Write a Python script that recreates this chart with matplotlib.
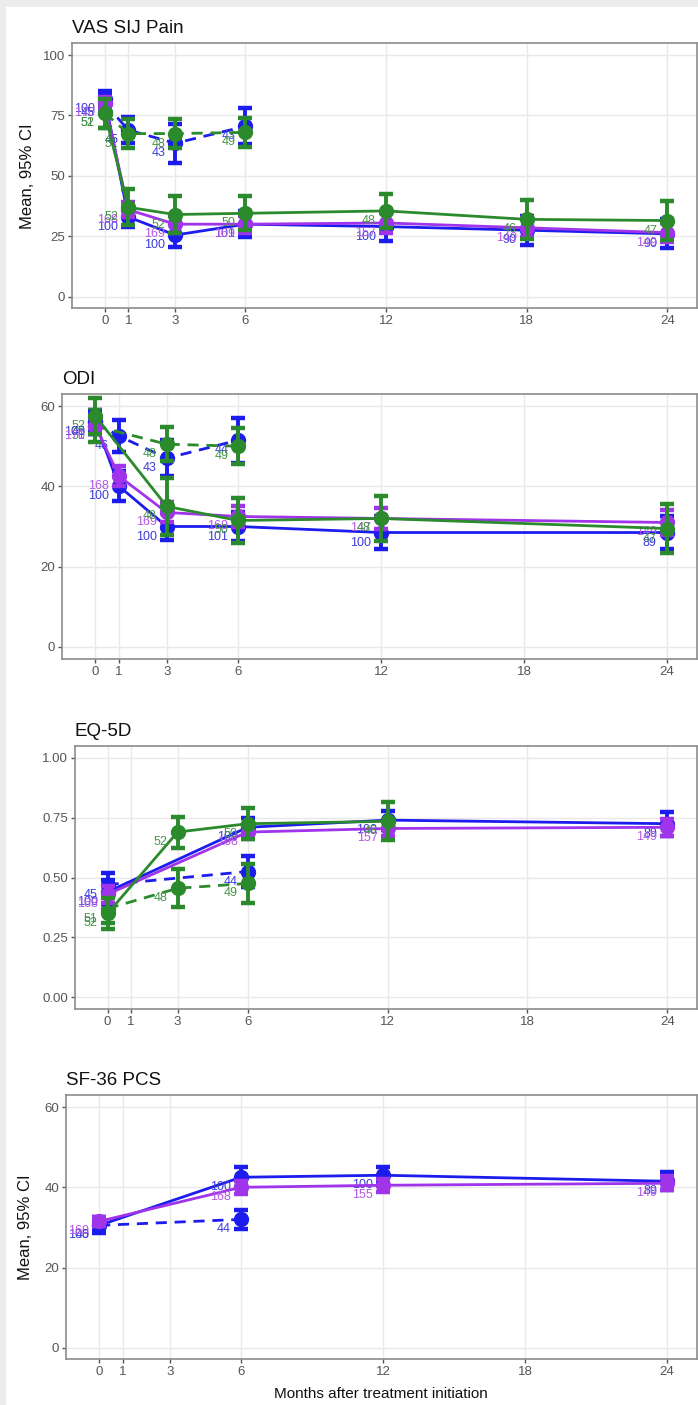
import matplotlib
matplotlib.use('Agg')
import matplotlib.pyplot as plt
from matplotlib.transforms import offset_copy
from matplotlib.patches import Rectangle

plt.rcParams['font.family'] = ['Liberation Sans', 'DejaVu Sans']

# ---------------- data ----------------
month_ticks = [0, 1, 3, 6, 12, 18, 24]

# VAS SIJ Pain
vas_blue_m = [0, 1, 3, 6, 12, 18, 24]
vas_blue = [82, 33, 25.5, 30, 29, 27.5, 26]
vas_blue_ci = [3, 4, 5, 5.5, 6, 6, 6]
vas_blue_n = [100, 100, 100, 101, 100, 90, 90]
vas_purple_m = [0, 1, 3, 6, 12, 18, 24]
vas_purple = [80, 36, 30, 30, 30.5, 28.5, 26.5]
vas_purple_ci = [2.5, 3, 3.5, 3.5, 4, 4, 4]
vas_purple_n = [170, 168, 169, 169, 157, 149, 149]
vas_green_m = [0, 1, 3, 6, 12, 18, 24]
vas_green = [76, 37, 34, 34.5, 35.5, 32, 31.5]
vas_green_ci = [6, 7.5, 7.5, 7, 7, 8, 8]
vas_green_n = [52, 52, 52, 50, 48, 46, 47]
vas_bluec_m = [0, 1, 3, 6]
vas_bluec = [80, 69, 63.5, 70.5]
vas_bluec_ci = [4, 5.5, 8, 7.5]
vas_bluec_n = [45, 45, 43, 43]
vas_greenc_m = [0, 1, 3, 6]
vas_greenc = [76, 67.5, 67.5, 68]
vas_greenc_ci = [6, 6, 6, 6]
vas_greenc_n = [51, 51, 48, 49]

# ODI
odi_blue_m = [0, 1, 3, 6, 12, 24]
odi_blue = [56, 40, 30, 30, 28.5, 28.5]
odi_blue_ci = [2.5, 3.7, 3.4, 3.5, 4, 4]
odi_blue_n = [100, 100, 100, 101, 100, 89]
odi_purple_m = [0, 1, 3, 6, 12, 24]
odi_purple = [55, 42.5, 33.5, 32.5, 32, 31]
odi_purple_ci = [2, 2.5, 2.5, 2.5, 2.5, 3]
odi_purple_n = [170, 168, 169, 169, 147, 149]
odi_green_m = [0, 3, 6, 12, 24]
odi_green = [57.5, 35, 31.5, 32, 29.5]
odi_green_ci = [4.5, 7, 5.5, 5.6, 6]
odi_green_n = [52, 48, 50, 48, 47]
odi_bluec_m = [0, 1, 3, 6]
odi_bluec = [56, 52.5, 47, 51.5]
odi_bluec_ci = [3, 4, 4.5, 5.6]
odi_bluec_n = [45, 46, 43, 44]
odi_greenc_m = [0, 3, 6]
odi_greenc = [55, 50.5, 50]
odi_greenc_ci = [4, 4.3, 4.5]
odi_greenc_n = [51, 48, 49]

# EQ-5D
eq_blue_m = [0, 6, 12, 24]
eq_blue = [0.44, 0.71, 0.74, 0.725]
eq_blue_ci = [0.05, 0.04, 0.04, 0.05]
eq_blue_n = [100, 100, 100, 89]
eq_purple_m = [0, 6, 12, 24]
eq_purple = [0.43, 0.69, 0.705, 0.71]
eq_purple_ci = [0.035, 0.03, 0.03, 0.035]
eq_purple_n = [168, 168, 157, 149]
eq_green_m = [0, 3, 6, 12]
eq_green = [0.35, 0.69, 0.725, 0.735]
eq_green_ci = [0.065, 0.065, 0.065, 0.08]
eq_green_n = [52, 52, 50, 48]
eq_bluec_m = [0, 6]
eq_bluec = [0.47, 0.525]
eq_bluec_ci = [0.05, 0.065]
eq_bluec_n = [45, 44]
eq_greenc_m = [0, 3, 6]
eq_greenc = [0.37, 0.455, 0.475]
eq_greenc_ci = [0.06, 0.08, 0.08]
eq_greenc_n = [51, 48, 49]

# SF-36 PCS
sf_blue_m = [0, 6, 12, 24]
sf_blue = [30.5, 42.5, 43, 41.5]
sf_blue_ci = [1.5, 2.5, 2, 2.2]
sf_blue_n = [100, 100, 100, 89]
sf_purple_m = [0, 6, 12, 24]
sf_purple = [31.5, 40, 40.5, 41]
sf_purple_ci = [1.2, 1.6, 1.6, 1.8]
sf_purple_n = [169, 168, 155, 149]
sf_bluec_m = [0, 6]
sf_bluec = [30.5, 32]
sf_bluec_ci = [2, 2.3]
sf_bluec_n = [45, 44]

panel_titles = ['VAS SIJ Pain', 'ODI', 'EQ-5D', 'SF-36 PCS']

# ---------------- style ----------------
W, H = 698, 1405
BLUE, PURPLE, GREEN = '#1c1cec', '#a034ea', '#2b8a2b'
BLUE_T, PURPLE_T, GREEN_T = '#3c3cdc', '#b257e4', '#45954a'

fig = plt.figure(figsize=(W / 100, H / 100), dpi=100)
fig.patch.set_facecolor('white')
fig.patches.append(Rectangle((0, 0), 6 / W, 1, transform=fig.transFigure,
                             facecolor='#ececec', edgecolor='none', zorder=-10))
fig.patches.append(Rectangle((0, 1 - 7 / H), 1, 7 / H, transform=fig.transFigure,
                             facecolor='#ececec', edgecolor='none', zorder=-10))


def make_axes(left, top, right, bottom):
    return fig.add_axes([left / W, 1 - bottom / H, (right - left) / W, (bottom - top) / H])


def style_axes(ax, title, ylim, yticks, yticklabels):
    ax.set_xlim(-1.4, 25.27)
    ax.set_ylim(*ylim)
    ax.set_xticks(month_ticks)
    ax.set_yticks(yticks)
    ax.set_yticklabels(yticklabels)
    ax.grid(True, color='#e9e9e9', lw=1.0)
    ax.set_axisbelow(True)
    for s in ax.spines.values():
        s.set_color('#8c8c8c')
        s.set_linewidth(1.2)
    ax.tick_params(length=3, width=1, color='#555555', labelsize=9.5,
                   labelcolor='#555555', pad=2)
    ax.set_title(title, loc='left', fontsize=13.5, pad=7, color='#111111')


def draw_series(ax, months, mean, ci, n, color, tcolor, dashed, z):
    ls = (0, (4, 2.8)) if dashed else '-'
    ax.plot(months, mean, color=color, lw=2.0, ls=ls, zorder=z)
    ax.errorbar(months, mean, yerr=ci, fmt='none', ecolor=color, elinewidth=2.8,
                capsize=5, capthick=3.2, zorder=z + 0.1)
    ax.plot(months, mean, 'o', color=color, ms=10, zorder=z + 0.2)
    trans = offset_copy(ax.transData, fig=fig, x=-10, y=-10, units='dots')
    for m, v, k in zip(months, mean, n):
        ax.text(m, v, str(k), transform=trans, ha='right', va='center',
                fontsize=9, color=tcolor, clip_on=True, zorder=z + 0.3)


# Panel 1: VAS
ax1 = make_axes(72, 43, 697, 308)
style_axes(ax1, panel_titles[0], (-4.7, 105), [0, 25, 50, 75, 100],
           ['0', '25', '50', '75', '100'])
draw_series(ax1, vas_bluec_m, vas_bluec, vas_bluec_ci, vas_bluec_n, BLUE, BLUE_T, True, 3)
draw_series(ax1, vas_greenc_m, vas_greenc, vas_greenc_ci, vas_greenc_n, GREEN, GREEN_T, True, 4)
draw_series(ax1, vas_blue_m, vas_blue, vas_blue_ci, vas_blue_n, BLUE, BLUE_T, False, 5)
draw_series(ax1, vas_purple_m, vas_purple, vas_purple_ci, vas_purple_n, PURPLE, PURPLE_T, False, 6)
draw_series(ax1, vas_green_m, vas_green, vas_green_ci, vas_green_n, GREEN, GREEN_T, False, 7)

# Panel 2: ODI
ax2 = make_axes(62, 394, 697, 659)
style_axes(ax2, panel_titles[1], (-3, 63), [0, 20, 40, 60], ['0', '20', '40', '60'])
draw_series(ax2, odi_bluec_m, odi_bluec, odi_bluec_ci, odi_bluec_n, BLUE, BLUE_T, True, 3)
draw_series(ax2, odi_greenc_m, odi_greenc, odi_greenc_ci, odi_greenc_n, GREEN, GREEN_T, True, 4)
draw_series(ax2, odi_blue_m, odi_blue, odi_blue_ci, odi_blue_n, BLUE, BLUE_T, False, 5)
draw_series(ax2, odi_purple_m, odi_purple, odi_purple_ci, odi_purple_n, PURPLE, PURPLE_T, False, 6)
draw_series(ax2, odi_green_m, odi_green, odi_green_ci, odi_green_n, GREEN, GREEN_T, False, 7)

# Panel 3: EQ-5D
ax3 = make_axes(75, 746, 697, 1009)
style_axes(ax3, panel_titles[2], (-0.05, 1.05), [0, 0.25, 0.5, 0.75, 1.0],
           ['0.00', '0.25', '0.50', '0.75', '1.00'])
draw_series(ax3, eq_bluec_m, eq_bluec, eq_bluec_ci, eq_bluec_n, BLUE, BLUE_T, True, 3)
draw_series(ax3, eq_greenc_m, eq_greenc, eq_greenc_ci, eq_greenc_n, GREEN, GREEN_T, True, 4)
draw_series(ax3, eq_blue_m, eq_blue, eq_blue_ci, eq_blue_n, BLUE, BLUE_T, False, 5)
draw_series(ax3, eq_purple_m, eq_purple, eq_purple_ci, eq_purple_n, PURPLE, PURPLE_T, False, 6)
draw_series(ax3, eq_green_m, eq_green, eq_green_ci, eq_green_n, GREEN, GREEN_T, False, 7)

# Panel 4: SF-36 PCS
ax4 = make_axes(66, 1095, 697, 1359)
style_axes(ax4, panel_titles[3], (-2.8, 63), [0, 20, 40, 60], ['0', '20', '40', '60'])
draw_series(ax4, sf_bluec_m, sf_bluec, sf_bluec_ci, sf_bluec_n, BLUE, BLUE_T, True, 3)
draw_series(ax4, sf_blue_m, sf_blue, sf_blue_ci, sf_blue_n, BLUE, BLUE_T, False, 5)
draw_series(ax4, sf_purple_m, sf_purple, sf_purple_ci, sf_purple_n, PURPLE, PURPLE_T, False, 6)

# axis labels
fig.text(27 / W, 1 - 176 / H, 'Mean, 95% CI', rotation=90, ha='center', va='center',
         fontsize=12, color='#111111')
fig.text(26 / W, 1 - 1227 / H, 'Mean, 95% CI', rotation=90, ha='center', va='center',
         fontsize=12, color='#111111')
fig.text(381 / W, 1 - 1394 / H, 'Months after treatment initiation', ha='center',
         va='center', fontsize=11, color='#111111')

fig.savefig('out.png', dpi=100)
